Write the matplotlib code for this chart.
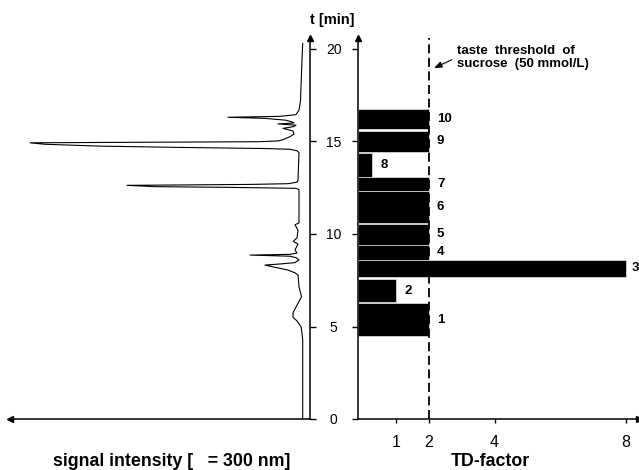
import matplotlib
matplotlib.use('Agg')
import matplotlib.pyplot as plt

plt.rcParams['font.family'] = ['Liberation Sans', 'DejaVu Sans']

# ---- data ----
chrom_time = [0.0, 4.27, 4.63, 4.99, 5.3, 5.5, 5.75, 6.05, 6.61, 7.15, 7.78, 7.9, 8.05, 8.2,
              8.32, 8.38, 8.45, 8.6, 8.72, 8.8, 8.86, 8.9, 8.97, 9.14, 9.46, 9.6, 9.8,
              10.2, 10.5, 10.6, 11.5, 12.4, 12.47, 12.52, 12.56, 12.63, 12.68, 12.72,
              12.8, 12.9, 14.4, 14.5, 14.58, 14.62, 14.68, 14.75, 14.85, 14.93, 14.97,
              14.99, 15.03, 15.08, 15.17, 15.26, 15.4, 15.57, 15.64, 15.71, 15.8, 15.88,
              15.95, 16.0, 16.06, 16.15, 16.25, 16.31, 16.36, 16.45, 16.7, 17.2, 19.0, 20.3]
chrom_signal = [7.3, 7.3, 8, 9, 13, 17, 17, 14, 8.5, 11, 12, 15, 22, 35,
                45, 30, 15, 11, 14, 20, 60, 20, 13, 15, 12, 16.7, 13,
                12, 15, 11, 11, 11, 14, 80, 155, 183, 60, 22,
                13, 12, 11, 13, 20, 45, 130, 210, 265, 280, 120,
                50, 32, 28, 24, 20, 16, 17, 22, 27, 17, 14,
                32, 16, 18, 24, 45, 82, 30, 14, 11, 9.5, 8.3, 7.3]

fractions = ['1', '2', '3', '4', '5', '6', '7', '8', '9', '10']
frac_start = [4.49, 6.34, 7.69, 8.60, 9.41, 10.61, 12.34, 13.10, 14.45, 15.66]
frac_end = [6.25, 7.55, 8.59, 9.41, 10.54, 12.34, 13.10, 14.36, 15.59, 16.76]
td_factor = [2, 1, 8, 2, 2, 2, 2, 0.28, 2, 2]

td_ticks = [1, 2, 4, 8]
time_ticks = [0, 5, 10, 15, 20]
threshold_td = 2

# ---- layout ----
W, H = 639, 470
fig = plt.figure(figsize=(W / 100, H / 100), dpi=100)


def px(l, b, r, t):
    return [l / W, (H - b) / H, (r - l) / W, (b - t) / H]


ax1 = fig.add_axes(px(10, 419, 310, 38))
ax2 = fig.add_axes(px(358, 419, 639, 38))
TMAX = (419 - 38) / 18.5
X0 = -0.15
XMAX = (639 - 363) / 32.9
for ax in (ax1, ax2):
    ax.set_ylim(0, TMAX)
    ax.set_facecolor('none')

# left panel: chromatogram
ax1.plot(chrom_signal, chrom_time, color='black', lw=0.8, solid_joinstyle='round')
ax1.set_xlim(300, 0)
ax1.spines['top'].set_visible(False)
ax1.spines['left'].set_visible(False)
ax1.spines['right'].set_linewidth(1.1)
ax1.spines['bottom'].set_linewidth(1.1)
ax1.set_xticks([])
ax1.yaxis.tick_right()
ax1.set_yticks(time_ticks)
ax1.set_yticklabels([str(t) for t in time_ticks])
ax1.tick_params(axis='y', direction='out', length=4, width=1.0, pad=13, labelsize=10)
for lab in ax1.get_yticklabels():
    lab.set_horizontalalignment('center')
ax1.plot(1, 1, marker='^', color='black', ms=5, transform=ax1.transAxes, clip_on=False)
ax1.plot(0, 0, marker='<', color='black', ms=5, transform=ax1.transAxes, clip_on=False)

# right panel: TD factor bars
heights = [e - s for s, e in zip(frac_start, frac_end)]
widths = [v - X0 for v in td_factor]
ax2.barh(frac_start, widths, height=heights, left=X0, align='edge',
         color='black', edgecolor='white', linewidth=0.4)
for lab, s, e, v in zip(fractions, frac_start, frac_end, td_factor):
    ax2.text(min(v + 0.25, XMAX - 0.22), (s + e) / 2, lab, ha='left', va='center',
             fontsize=9.5, fontweight='bold', clip_on=False)
ax2.axvline(threshold_td, color='black', lw=1.3, ls=(0, (5, 2.5)), clip_on=False)
ax2.set_xlim(X0, XMAX)
ax2.spines['top'].set_visible(False)
ax2.spines['right'].set_visible(False)
ax2.spines['left'].set_linewidth(1.1)
ax2.spines['bottom'].set_linewidth(1.1)
ax2.set_yticks(time_ticks)
ax2.set_yticklabels([])
ax2.tick_params(axis='y', direction='out', length=4, width=1.0)
ax2.set_xticks(td_ticks)
ax2.set_xticklabels([str(t) for t in td_ticks])
ax2.tick_params(axis='x', direction='out', length=3, width=1.0, pad=8.5, labelsize=11.5)
ax2.plot(0, 1, marker='^', color='black', ms=5, transform=ax2.transAxes, clip_on=False)
ax2.plot(1, 0, marker='>', color='black', ms=5, transform=ax2.transAxes, clip_on=False)

ax2.annotate('taste  threshold  of\nsucrose  (50 mmol/L)',
             xy=(2.16, 18.97), xytext=(2.86, 19.55), textcoords='data',
             ha='left', va='center', fontsize=9.5, fontweight='bold', linespacing=1.15,
             arrowprops=dict(arrowstyle='-|>,head_length=0.5,head_width=0.2',
                             color='black', lw=0.8, shrinkA=2, shrinkB=0,
                             relpos=(0, 0.5)))

# axis titles
fig.text(172 / W, 1 - 466 / H, 'signal intensity [   = 300 nm]', ha='center', va='baseline',
         fontsize=12.8, fontweight='bold')
fig.text(490 / W, 1 - 466 / H, 'TD-factor', ha='center', va='baseline',
         fontsize=12.8, fontweight='bold')
fig.text(332 / W, 1 - 20 / H, 't [min]', ha='center', va='center',
         fontsize=10.5, fontweight='bold')

fig.savefig('out.png', dpi=100)
